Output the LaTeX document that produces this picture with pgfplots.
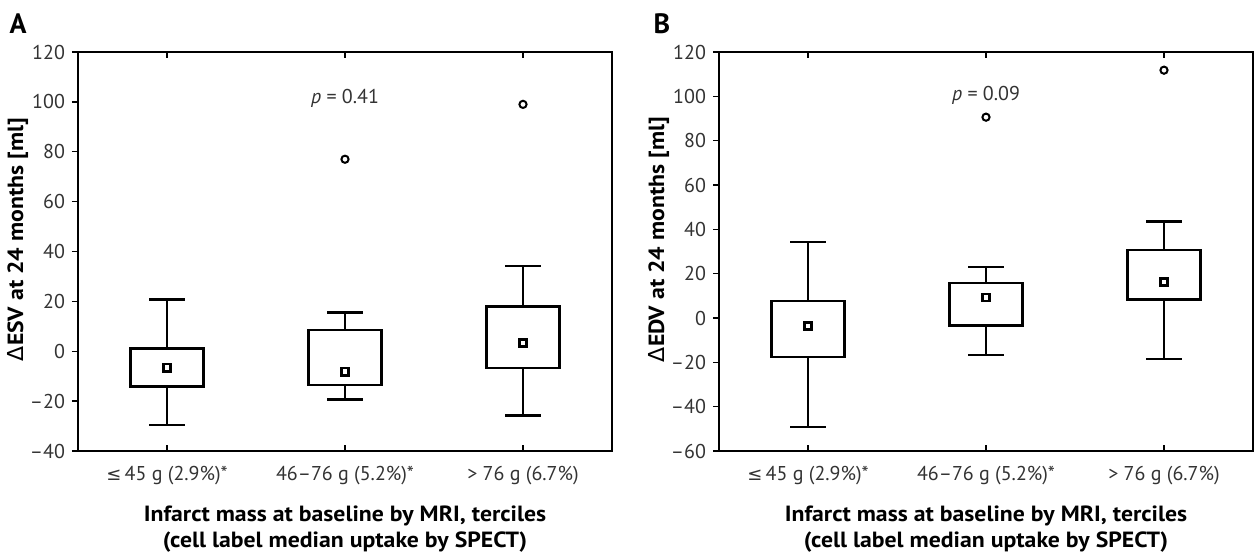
\documentclass[border=0pt]{standalone}
\usepackage{fontspec}
\setmainfont{PT Sans}
\newfontfamily\symf{DejaVu Sans}
\newfontfamily\labf[FakeStretch=1.08]{PT Sans}
\usepackage{pgfplots}
\usepgfplotslibrary{statistics}
\pgfplotsset{compat=1.18}

\definecolor{txt}{HTML}{333333}

\pgfplotsset{
  panel/.style={
    scale only axis,
    width=267pt, height=199.5pt,
    xmin=0.5, xmax=3.5,
    xtick={1,2,3},
    xticklabels={{\symf\small ≤}\,45 g (2.9\%)*, 46–76 g (5.2\%)*, > 76 g (6.7\%)},
    xtick align=inside, ytick align=outside,
    ytick pos=left,
    major tick length=3pt,
    axis line style={line width=0.7pt},
    tick style={line width=0.7pt, black},
    tick label style={font=\fontsize{10}{12}\selectfont, text=txt},
    xticklabel style={yshift=-4pt},
    xlabel style={at={(axis description cs:0.5,0)}, anchor=north, yshift=-24pt,
      align=center, font=\labf\bfseries\fontsize{11}{12.8}\selectfont, text=black},
    ylabel style={at={(axis description cs:-0.113,0.53)}, anchor=center,
      font=\labf\bfseries\fontsize{11}{12}\selectfont, text=black},
    xlabel={Infarct mass at baseline by MRI, terciles\\(cell label median uptake by SPECT)},
    boxplot/draw direction=y,
    boxplot/box extend=0.41,
    boxplot/whisker extend=0.2,
    boxplot/every median/.style={draw=none},
    boxplot/every average/.style={/tikz/mark=square, /tikz/mark size=1.8pt,
      /tikz/mark options={solid, line width=1pt, fill=white}},
    bx/.style={black, line width=1.2pt, mark=o, mark size=1.8pt,
      mark options={solid, line width=1pt}},
  }
}

\begin{document}
\begin{tikzpicture}
\useasboundingbox (0,0) rectangle (627pt,276.5pt);

\node[font=\bfseries\fontsize{14}{14}\selectfont] at (9pt,264.5pt) {A};
\node[font=\bfseries\fontsize{14}{14}\selectfont] at (331pt,264.5pt) {B};

% panel A: change in ESV
\begin{axis}[panel, at={(39pt,51pt)}, anchor=south west,
    ymin=-40, ymax=120,
    ytick={-40,-20,0,20,40,60,80,100,120},
    yticklabels={–40,–20,0,20,40,60,80,100,120},
    ylabel={{\symf\mdseries Δ}ESV at 24 months [ml]}]
  \addplot[bx, boxplot prepared={draw position=1,
      lower whisker=-29.5, lower quartile=-14.2, median=-6.6,
      upper quartile=1.1, upper whisker=20.7, average=-6.6}]
    coordinates {};
  \addplot[bx, boxplot prepared={draw position=2,
      lower whisker=-19.3, lower quartile=-13.5, median=-8.2,
      upper quartile=8.5, upper whisker=15.5, average=-8.2}]
    coordinates {(0,77)};
  \addplot[bx, boxplot prepared={draw position=3,
      lower whisker=-25.8, lower quartile=-6.6, median=3.3,
      upper quartile=17.9, upper whisker=34.2, average=3.3}]
    coordinates {(0,99)};
  \node[font=\fontsize{10}{12}\selectfont, text=txt] at (axis cs:2,101.5) {\textit{p} = 0.41};
\end{axis}

% panel B: change in EDV
\begin{axis}[panel, at={(359.5pt,51pt)}, anchor=south west,
    ymin=-60, ymax=120,
    ytick={-60,-40,-20,0,20,40,60,80,100,120},
    yticklabels={–60,–40,–20,0,20,40,60,80,100,120},
    ylabel={{\symf\mdseries Δ}EDV at 24 months [ml]}]
  \addplot[bx, boxplot prepared={draw position=1,
      lower whisker=-49.1, lower quartile=-17.7, median=-3.6,
      upper quartile=7.7, upper whisker=34.4, average=-3.6}]
    coordinates {};
  \addplot[bx, boxplot prepared={draw position=2,
      lower whisker=-16.7, lower quartile=-3.3, median=9.2,
      upper quartile=15.9, upper whisker=23.1, average=9.2}]
    coordinates {(0,90.6)};
  \addplot[bx, boxplot prepared={draw position=3,
      lower whisker=-18.5, lower quartile=8.3, median=16.2,
      upper quartile=30.7, upper whisker=43.5, average=16.2}]
    coordinates {(0,111.8)};
  \node[font=\fontsize{10}{12}\selectfont, text=txt] at (axis cs:2,100.5) {\textit{p} = 0.09};
\end{axis}
\end{tikzpicture}
\end{document}
